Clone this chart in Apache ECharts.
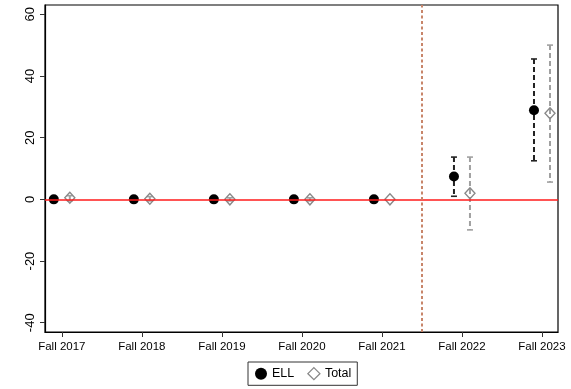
<!DOCTYPE html>
<html>
<head>
<meta charset="utf-8">
<script src="https://cdn.jsdelivr.net/npm/echarts@6/dist/echarts.min.js"></script>
<style>
  html, body { margin: 0; padding: 0; background: #fff; }
  #chart { width: 571px; height: 389px; }
</style>
</head>
<body>
<div id="chart"></div>
<script>
// Terms on the x axis
const terms = ['Fall 2017', 'Fall 2018', 'Fall 2019', 'Fall 2020', 'Fall 2021', 'Fall 2022', 'Fall 2023'];

// Point estimates
const ellEstimate   = [0, 0, 0, 0, 0, 7.4, 28.9];
const totalEstimate = [0.5, 0.2, 0, 0, 0, 2.0, 27.9];

// 95% confidence bounds (only the post-period terms have visible intervals)
const ellLower   = [null, null, null, null, null, 1.0, 12.5];
const ellUpper   = [null, null, null, null, null, 13.7, 45.5];
const totalLower = [-0.5, -0.5, -0.5, -0.5, null, -9.9, 5.6];
const totalUpper = [1.2, 0.9, 0.5, 0.5, null, 13.7, 50.0];

// Y-axis tick values
const yTicks = [-40, -20, 0, 20, 40, 60];

// Term where the policy break falls (between Fall 2021 and Fall 2022)
const breakAt = 4.5;

const offset = 0.1; // horizontal nudge so the two series sit side by side
const xTicks = terms.map((_, i) => i);

function points(est, shift) {
  return est.map((v, i) => [i + shift, v]);
}
function bars(lo, hi, shift) {
  const out = [];
  lo.forEach((l, i) => {
    if (l !== null && hi[i] !== null) out.push([i + shift, l, hi[i]]);
  });
  return out;
}

function errorBar(color, dash) {
  return function (params, api) {
    const x = api.value(0);
    const top = api.coord([x, api.value(2)]);
    const bot = api.coord([x, api.value(1)]);
    const cap = 3;
    const style = { stroke: color, lineWidth: 2, lineDash: dash };
    const capStyle = { stroke: color, lineWidth: 1.6 };
    return {
      type: 'group',
      children: [
        { type: 'line', shape: { x1: top[0], y1: top[1], x2: bot[0], y2: bot[1] }, style: style },
        { type: 'line', shape: { x1: top[0] - cap, y1: top[1], x2: top[0] + cap, y2: top[1] }, style: capStyle },
        { type: 'line', shape: { x1: bot[0] - cap, y1: bot[1], x2: bot[0] + cap, y2: bot[1] }, style: capStyle }
      ]
    };
  };
}

const chart = echarts.init(document.getElementById('chart'), null, { renderer: 'canvas' });

const font = 'Liberation Sans, Arial, Helvetica, sans-serif';

chart.setOption({
  animation: false,
  backgroundColor: '#fff',
  grid: {
    left: 45, right: 13, top: 5, bottom: 57,
    show: true, borderColor: '#000', borderWidth: 1.2, backgroundColor: 'transparent'
  },
  xAxis: {
    type: 'value',
    min: -0.21, max: 6.2,
    splitLine: { show: false },
    axisLine: { show: true, onZero: false, lineStyle: { color: '#000', width: 1.2 } },
    axisTick: { show: true, customValues: xTicks, length: 5, lineStyle: { color: '#333' } },
    axisLabel: {
      customValues: xTicks,
      formatter: v => terms[Math.round(v)],
      color: '#000', fontFamily: font, fontSize: 11.5, margin: 9
    }
  },
  yAxis: {
    type: 'value',
    min: -43, max: 63,
    splitLine: { show: false },
    axisLine: { show: true, onZero: false, lineStyle: { color: '#000', width: 1.2 } },
    axisTick: { show: true, customValues: yTicks, length: 5, lineStyle: { color: '#333' } },
    axisLabel: {
      customValues: yTicks,
      rotate: 90,
      color: '#000', fontFamily: font, fontSize: 13, margin: 8
    }
  },
  legend: {
    top: 362,
    left: 248,
    padding: [5, 6, 5, 7],
    borderColor: '#333', borderWidth: 1,
    itemGap: 13, itemWidth: 12, itemHeight: 12,
    textStyle: { fontFamily: font, fontSize: 12.5, color: '#000' },
    data: [
      { name: 'ELL', icon: 'circle', itemStyle: { color: '#000', opacity: 1 } },
      { name: 'Total', icon: 'diamond', itemStyle: { color: '#fff', borderColor: '#888', borderWidth: 1.3 } }
    ]
  },
  series: [
    {
      name: 'zero',
      type: 'line',
      data: [],
      markLine: {
        silent: true, symbol: 'none', label: { show: false },
        data: [
          { yAxis: 0, lineStyle: { color: '#ff1a1a', width: 1.5, type: 'solid' } },
          { xAxis: breakAt, lineStyle: { color: '#c8856a', width: 2, type: [3, 2.5] } }
        ]
      },
      z: 1
    },
    {
      name: 'ELL CI',
      type: 'custom',
      renderItem: errorBar('#222', [5, 3]),
      data: bars(ellLower, ellUpper, -offset),
      encode: { x: 0, y: [1, 2] },
      z: 2
    },
    {
      name: 'Total CI',
      type: 'custom',
      renderItem: errorBar('#a0a0a0', [5, 3]),
      data: bars(totalLower, totalUpper, offset),
      encode: { x: 0, y: [1, 2] },
      z: 2
    },
    {
      name: 'ELL',
      type: 'scatter',
      symbol: 'circle',
      symbolSize: 10,
      itemStyle: { color: '#000', opacity: 1 },
      data: points(ellEstimate, -offset),
      z: 4
    },
    {
      name: 'Total',
      type: 'scatter',
      symbol: 'diamond',
      symbolSize: [10, 11],
      itemStyle: { color: 'rgba(255,255,255,0)', borderColor: '#888', borderWidth: 1.4, opacity: 1 },
      data: points(totalEstimate, offset),
      z: 4
    }
  ]
});
</script>
</body>
</html>
